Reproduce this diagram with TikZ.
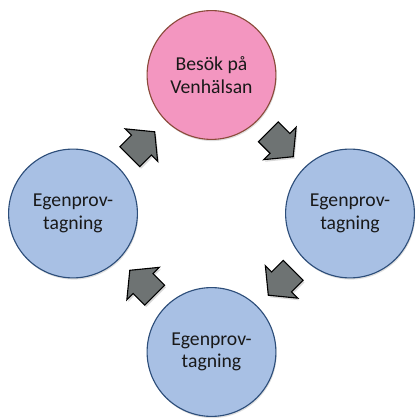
\documentclass[tikz,border=0pt]{standalone}
\usepackage{fontspec}
\setmainfont{Carlito}
\usetikzlibrary{calc,shadows}
\definecolor{visitfill}{HTML}{F396C0}
\definecolor{visitline}{HTML}{8B4B3B}
\definecolor{testfill}{HTML}{A8C0E4}
\definecolor{testline}{HTML}{2D4E7A}
\definecolor{arrowfill}{HTML}{6E7373}
\tikzset{
  flow/.pic={
    \draw[draw=black, line width=0.8pt, fill=arrowfill, line join=miter,
      drop shadow={shadow xshift=1pt, shadow yshift=-1.5pt, opacity=0.3}]
      (-0.44,-0.35) -- (-0.03,-0.35) -- (-0.03,-0.575) -- (0.44,0)
      -- (-0.03,0.575) -- (-0.03,0.35) -- (-0.44,0.35) -- cycle;
  }
}
\begin{document}
\begin{tikzpicture}[
    stage/.style={circle, draw, line width=0.8pt, minimum size=3.22cm, inner sep=0pt,
      align=center, text=black!90, font=\fontsize{14}{16}\selectfont,
      drop shadow={shadow xshift=0.6pt, shadow yshift=-1.2pt, opacity=0.25}},
    visit/.style={stage, fill=visitfill, draw=visitline},
    test/.style={stage, fill=testfill, draw=testline}
  ]
    \useasboundingbox (0, 0) rectangle (10.4, 10.475);

    \node[visit] (visit)  at (5.2875, 8.6)    {Besök på\\Venhälsan};
    \node[test]  (right)  at (8.75, 5.1375)   {Egenprov-\\tagning};
    \node[test]  (bottom) at (5.2875, 1.675)  {Egenprov-\\tagning};
    \node[test]  (left)   at (1.825, 5.1375)  {Egenprov-\\tagning};

    \pic[rotate=45]   at ($(left)!0.5!(visit)$)   {flow};
    \pic[rotate=-45]  at ($(visit)!0.5!(right)$)  {flow};
    \pic[rotate=-135] at ($(right)!0.5!(bottom)$) {flow};
    \pic[rotate=135]  at ($(bottom)!0.5!(left)$)  {flow};
  \end{tikzpicture}
\end{document}
